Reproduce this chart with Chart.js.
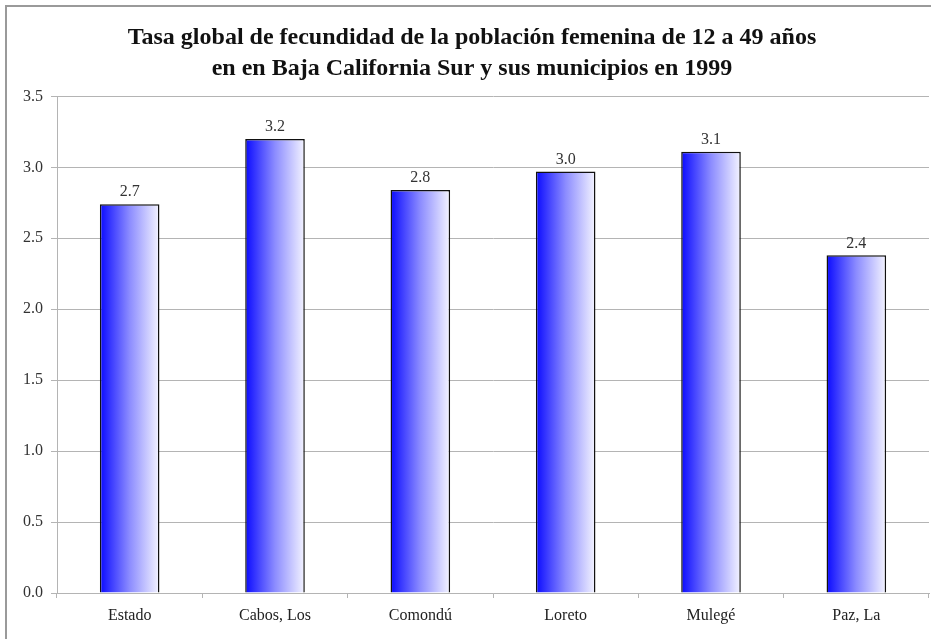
<!DOCTYPE html>
<html>
<head>
<meta charset="utf-8">
<script src="https://cdn.jsdelivr.net/npm/chart.js@4/dist/chart.umd.min.js"></script>
<style>
  html, body { margin: 0; padding: 0; background: #fff; }
  #wrap { position: relative; width: 931px; height: 639px; }
  #frame { position: absolute; left: 5px; top: 5px; right: -10px; bottom: -10px;
           border-left: 2px solid #9a9a9a; border-top: 2px solid #9a9a9a; pointer-events: none; }
</style>
</head>
<body>
<div id="wrap">
  <canvas id="chart" width="931" height="639"></canvas>
  <div id="frame"></div>
</div>
<script>
// data
const categories = ['Estado', 'Cabos, Los', 'Comondú', 'Loreto', 'Mulegé', 'Paz, La'];
const tasa = [2.74, 3.20, 2.84, 2.97, 3.11, 2.38];
const yTicks = [0, 0.5, 1.0, 1.5, 2.0, 2.5, 3.0, 3.5];

const serif = '"Liberation Serif", "Times New Roman", serif';
const BAR_PCT = 0.41;

// horizontal blue -> white gradient per bar
function barFill(ctx) {
  const chart = ctx.chart;
  const xs = chart.scales.x;
  if (!chart.chartArea || !xs) return '#4a4aff';
  const cx = xs.getPixelForValue(ctx.dataIndex);
  const w = (xs.width / categories.length) * BAR_PCT;
  const g = chart.ctx.createLinearGradient(cx - w / 2, 0, cx + w / 2, 0);
  g.addColorStop(0, '#0a0aff');
  g.addColorStop(0.5, '#8c8cff');
  g.addColorStop(1, '#f4f4ff');
  return g;
}

// value labels above bars
const valueLabels = {
  id: 'valueLabels',
  afterDatasetsDraw(chart) {
    const c = chart.ctx;
    const meta = chart.getDatasetMeta(0);
    c.save();
    c.font = '16px ' + serif;
    c.fillStyle = '#333';
    c.textAlign = 'center';
    c.textBaseline = 'bottom';
    meta.data.forEach((bar, i) => {
      c.fillText(tasa[i].toFixed(1), bar.x, bar.y - 4);
    });
    c.restore();
  }
};

new Chart(document.getElementById('chart'), {
  type: 'bar',
  data: {
    labels: categories,
    datasets: [{
      data: tasa,
      backgroundColor: barFill,
      borderColor: '#111',
      borderWidth: 1.5,
      barPercentage: BAR_PCT,
      categoryPercentage: 1
    }]
  },
  options: {
    responsive: false,
    animation: false,
    layout: { padding: { left: 15, right: 2, top: 8, bottom: 5 } },
    plugins: {
      legend: { display: false },
      tooltip: { enabled: false },
      title: {
        display: true,
        text: ['Tasa global de fecundidad de la población femenina de 12 a 49 años',
               'en en Baja California Sur y sus municipios en 1999'],
        font: { family: serif, size: 24, weight: 'bold', lineHeight: 1.3 },
        color: '#111',
        padding: { top: 14, bottom: 12 }
      }
    },
    scales: {
      y: {
        min: 0,
        max: 3.5,
        afterBuildTicks(axis) { axis.ticks = yTicks.map(v => ({ value: v })); },
        ticks: {
          font: { family: serif, size: 16 },
          color: '#333',
          padding: 8,
          callback: v => Number(v).toFixed(1)
        },
        grid: { color: '#b4b4b4', lineWidth: 1, tickLength: 6 },
        border: { color: '#b4b4b4', width: 1 }
      },
      x: {
        ticks: { font: { family: serif, size: 16, lineHeight: 1.0 }, color: '#222', padding: 10 },
        grid: { offset: true, drawOnChartArea: false, color: '#b4b4b4', tickLength: 5 },
        border: { color: '#b4b4b4', width: 1 }
      }
    }
  },
  plugins: [valueLabels]
});
</script>
</body>
</html>
